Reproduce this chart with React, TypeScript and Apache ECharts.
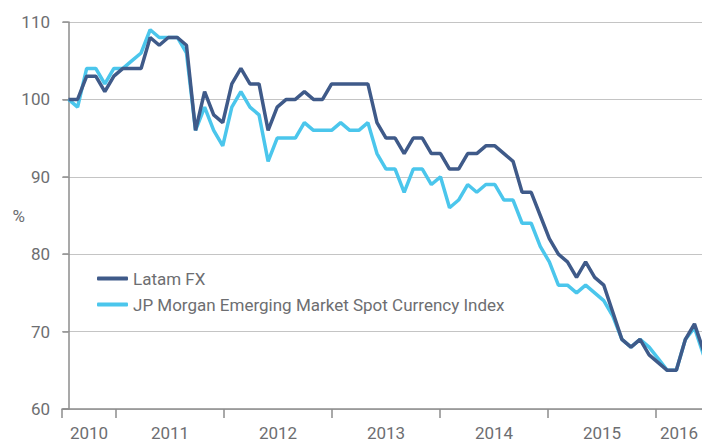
import React, { useEffect, useRef } from "react";
import * as echarts from "echarts";

// Monthly index values, Jul 2010 .. May 2016 (index = 100 at start)
const LATAM_FX: number[] = [
  100, 100, 103, 103, 101, 103, 104, 104, 104, 108, 107, 108, 108, 107, 96,
  101, 98, 97, 102, 104, 102, 102, 96, 99, 100, 100, 101, 100, 100, 102,
  102, 102, 102, 102, 97, 95, 95, 93, 95, 95, 93, 93, 91, 91, 93,
  93, 94, 94, 93, 92, 88, 88, 85, 82, 80, 79, 77, 79, 77, 76,
  72.5, 69, 68, 69, 67, 66, 65, 65, 69, 71, 67.5,
];

const JPM_EM: number[] = [
  100, 99, 104, 104, 102, 104, 104, 105, 106, 109, 108, 108, 108, 106, 96,
  99, 96, 94, 99, 101, 99, 98, 92, 95, 95, 95, 97, 96, 96, 96,
  97, 96, 96, 97, 93, 91, 91, 88, 91, 91, 89, 90, 86, 87, 89,
  88, 89, 89, 87, 87, 84, 84, 81, 79, 76, 76, 75, 76, 75, 74,
  72, 69, 68, 69, 68, 66.5, 65, 65, 69, 70.5, 67,
];

const SERIES_NAMES = ["Latam FX", "JP Morgan Emerging Market Spot Currency Index"];
const YEAR_LABELS = ["2010", "2011", "2012", "2013", "2014", "2015", "2016"];
const Y_TICKS = [60, 70, 80, 90, 100, 110];

// axis geometry in month-index units
const X_MIN = -0.72;
const X_MAX = 69.83;
const FIRST_YEAR_TICK = 5.24;
const INDEX_PER_YEAR = 11.905;

const FONT = "'Liberation Sans Narrow', 'Roboto', sans-serif";
const TEXT_COLOR = "#6d6e71";
const AXIS_COLOR = "#8c8c8c";
const DARK = "#3f5a89";
const LIGHT = "#4bc6ec";

export default function App() {
  const ref = useRef<HTMLDivElement>(null);

  useEffect(() => {
    if (!ref.current) return;
    const chart = echarts.init(ref.current, null, { renderer: "svg" });

    const yearTicks = YEAR_LABELS.slice(1).map((_, k) => FIRST_YEAR_TICK + k * INDEX_PER_YEAR);
    const bounds = [X_MIN, ...yearTicks, X_MAX];
    const labelValues = YEAR_LABELS.map((_, k) => (bounds[k] + bounds[k + 1]) / 2);
    const tickValues = [X_MIN, ...yearTicks];

    const yearFor = (v: number) => {
      let best = 0;
      let bd = Infinity;
      labelValues.forEach((lv, k) => {
        const d = Math.abs(lv - v);
        if (d < bd) {
          bd = d;
          best = k;
        }
      });
      return YEAR_LABELS[best];
    };

    chart.setOption({
      animation: false,
      backgroundColor: "#ffffff",
      grid: { left: 62, right: 0, top: 22, bottom: 31, containLabel: false },
      legend: {
        orient: "vertical",
        left: 92,
        top: 265,
        itemWidth: 31,
        itemHeight: 4,
        itemGap: 9,
        icon: "roundRect",
        textStyle: { fontSize: 17, color: TEXT_COLOR, fontFamily: FONT },
        data: SERIES_NAMES,
      },
      xAxis: {
        type: "value",
        min: X_MIN,
        max: X_MAX,
        axisLine: { show: true, lineStyle: { color: AXIS_COLOR, width: 1.5 } },
        axisTick: {
          show: true,
          length: 9,
          customValues: tickValues,
          lineStyle: { color: AXIS_COLOR, width: 1.5 },
        },
        axisLabel: {
          customValues: labelValues,
          formatter: (v: number) => yearFor(v),
          margin: 15,
          fontSize: 17,
          color: TEXT_COLOR,
          fontFamily: FONT,
        },
        splitLine: { show: false },
      },
      yAxis: {
        type: "value",
        min: Y_TICKS[0],
        max: Y_TICKS[Y_TICKS.length - 1],
        interval: 10,
        name: "%",
        nameLocation: "middle",
        nameGap: 37,
        nameRotate: 0,
        nameMoveOverlap: false,
        nameTextStyle: { fontSize: 17, color: TEXT_COLOR, fontFamily: FONT },
        axisLine: { show: true, lineStyle: { color: AXIS_COLOR, width: 1.5 } },
        axisTick: { show: true, length: 6, lineStyle: { color: AXIS_COLOR, width: 1.5 } },
        axisLabel: { margin: 12, fontSize: 17, color: TEXT_COLOR, fontFamily: FONT },
        splitLine: { show: true, lineStyle: { color: "#c4c4c4", width: 1.2 } },
      },
      series: [
        {
          name: SERIES_NAMES[1],
          type: "line",
          data: JPM_EM.map((v, i) => [i, v]),
          showSymbol: false,
          lineStyle: { color: LIGHT, width: 3.5 },
          itemStyle: { color: LIGHT },
          z: 2,
        },
        {
          name: SERIES_NAMES[0],
          type: "line",
          data: LATAM_FX.map((v, i) => [i, v]),
          showSymbol: false,
          lineStyle: { color: DARK, width: 3.5 },
          itemStyle: { color: DARK },
          z: 3,
        },
      ],
    });

    return () => chart.dispose();
  }, []);

  return (
    <div
      ref={ref}
      style={{ position: "absolute", left: 0, top: 0, width: 702, height: 441 }}
    />
  );
}
